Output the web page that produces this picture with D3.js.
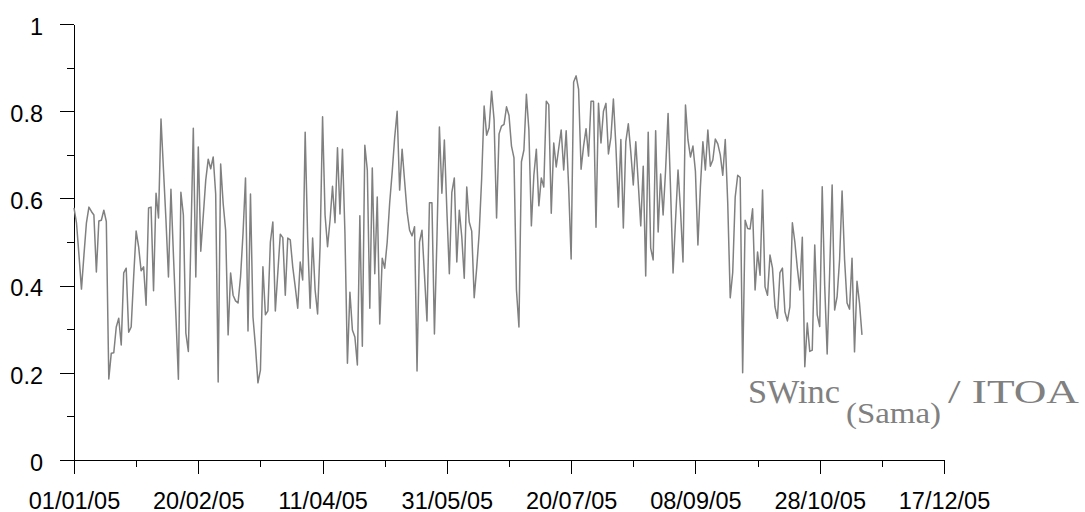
<!DOCTYPE html>
<html>
<head>
<meta charset="utf-8">
<script src="https://cdn.jsdelivr.net/npm/d3@7"></script>
<style>
  html, body { margin: 0; padding: 0; background: #fff; }
  #chart { width: 1085px; height: 512px; }
  .axis text { font-family: "Liberation Sans", Arial, sans-serif; font-size: 23.5px; fill: #000; }
  .axis path, .axis line { stroke: #000; stroke-width: 1; shape-rendering: crispEdges; }
  .serieslabel { font-family: "Liberation Serif", "Times New Roman", serif; fill: #808080; }
</style>
</head>
<body>
<div id="chart"></div>
<script>
// ------- data -------
const START_DATE = "01/01/05";

// daily SWinc(Sama)/ITOA ratio from 01/01/05
const ratio = [
  0.578, 0.544, 0.47, 0.392, 0.47, 0.544, 0.58, 0.57, 0.562, 0.431,
  0.548, 0.55, 0.573, 0.547, 0.186, 0.245, 0.246, 0.305, 0.325, 0.264,
  0.429, 0.44, 0.293, 0.305, 0.42, 0.525, 0.489, 0.434, 0.443, 0.355,
  0.578, 0.58, 0.388, 0.612, 0.555, 0.782, 0.665, 0.55, 0.42, 0.621,
  0.47, 0.33, 0.185, 0.614, 0.562, 0.291, 0.249, 0.5, 0.761, 0.42,
  0.718, 0.479, 0.56, 0.642, 0.69, 0.668, 0.695, 0.61, 0.179, 0.679,
  0.589, 0.527, 0.287, 0.429, 0.378, 0.365, 0.36, 0.42, 0.52, 0.647,
  0.296, 0.61, 0.328, 0.26, 0.177, 0.206, 0.443, 0.333, 0.342, 0.5,
  0.546, 0.342, 0.43, 0.518, 0.51, 0.378, 0.509, 0.505, 0.443, 0.397,
  0.348, 0.454, 0.413, 0.752, 0.509, 0.348, 0.509, 0.39, 0.335, 0.49,
  0.787, 0.562, 0.489, 0.55, 0.628, 0.544, 0.716, 0.564, 0.713, 0.52,
  0.222, 0.385, 0.298, 0.282, 0.218, 0.56, 0.261, 0.722, 0.665, 0.348,
  0.67, 0.427, 0.603, 0.312, 0.463, 0.44, 0.5, 0.59, 0.66, 0.739,
  0.8, 0.619, 0.713, 0.64, 0.569, 0.527, 0.514, 0.535, 0.204, 0.5,
  0.527, 0.424, 0.319, 0.59, 0.59, 0.289, 0.505, 0.764, 0.612, 0.734,
  0.573, 0.427, 0.614, 0.647, 0.454, 0.573, 0.512, 0.417, 0.626, 0.546,
  0.525, 0.372, 0.44, 0.52, 0.645, 0.812, 0.745, 0.762, 0.846, 0.78,
  0.555, 0.748, 0.766, 0.77, 0.81, 0.79, 0.72, 0.693, 0.39, 0.305,
  0.684, 0.711, 0.839, 0.757, 0.537, 0.653, 0.713, 0.583, 0.647, 0.626,
  0.823, 0.815, 0.566, 0.727, 0.672, 0.715, 0.757, 0.665, 0.755, 0.626,
  0.461, 0.867, 0.881, 0.85, 0.667, 0.72, 0.76, 0.697, 0.823, 0.823,
  0.534, 0.818, 0.727, 0.8, 0.818, 0.702, 0.74, 0.828, 0.72, 0.58,
  0.735, 0.532, 0.73, 0.771, 0.706, 0.631, 0.73, 0.635, 0.537, 0.674,
  0.422, 0.752, 0.486, 0.459, 0.755, 0.523, 0.656, 0.562, 0.665, 0.795,
  0.62, 0.429, 0.55, 0.665, 0.573, 0.454, 0.814, 0.734, 0.695, 0.72,
  0.662, 0.493, 0.626, 0.73, 0.665, 0.757, 0.674, 0.688, 0.736, 0.725,
  0.7, 0.653, 0.735, 0.589, 0.372, 0.43, 0.603, 0.653, 0.648, 0.2,
  0.55, 0.531, 0.53, 0.576, 0.39, 0.477, 0.424, 0.619, 0.397, 0.378,
  0.47, 0.44, 0.351, 0.325, 0.43, 0.44, 0.34, 0.319, 0.351, 0.544,
  0.5, 0.44, 0.39, 0.511, 0.214, 0.314, 0.249, 0.252, 0.493, 0.333,
  0.306, 0.627, 0.4, 0.243, 0.43, 0.631, 0.344, 0.375, 0.46, 0.617,
  0.46, 0.36, 0.346, 0.463, 0.248, 0.41, 0.36, 0.287
];

const xTickLabels = ["01/01/05", "20/02/05", "11/04/05", "31/05/05", "20/07/05", "08/09/05", "28/10/05", "17/12/05"];
const yTicks = [0, 0.2, 0.4, 0.6, 0.8, 1];
const yMinorTicks = [0.1, 0.3, 0.5, 0.7, 0.9];

// ------- chart -------
const parse = d3.utcParse("%d/%m/%y");
const fmt = d3.utcFormat("%d/%m/%y");
const start = parse(START_DATE);
const rows = ratio.map((v, i) => ({ date: d3.utcDay.offset(start, i), value: v }));

const xTicks = xTickLabels.map(parse);
const xMinorTicks = xTicks.slice(0, -1).map((d, i) => new Date((+d + +xTicks[i + 1]) / 2));

const width = 1085, height = 512;
const margin = { top: 24, right: 141, bottom: 52, left: 74 };

const svg = d3.select("#chart").append("svg")
  .attr("width", width)
  .attr("height", height);

const x = d3.scaleUtc()
  .domain([xTicks[0], xTicks[xTicks.length - 1]])
  .range([margin.left, width - margin.right]);

const y = d3.scaleLinear()
  .domain([0, 1])
  .range([height - margin.bottom, margin.top]);

// minor ticks
svg.append("g")
  .attr("class", "axis")
  .attr("transform", `translate(${margin.left},0)`)
  .call(d3.axisLeft(y).tickValues(yMinorTicks).tickSize(7).tickFormat(""))
  .call(g => g.select(".domain").remove());

svg.append("g")
  .attr("class", "axis")
  .attr("transform", `translate(0,${height - margin.bottom})`)
  .call(d3.axisBottom(x).tickValues(xMinorTicks).tickSize(7).tickFormat(""))
  .call(g => g.select(".domain").remove());

// major axes
svg.append("g")
  .attr("class", "axis")
  .attr("transform", `translate(${margin.left},0)`)
  .call(d3.axisLeft(y).tickValues(yTicks).tickSize(14).tickSizeOuter(0).tickPadding(17)
    .tickFormat(d => String(d)))
  .call(g => g.selectAll("text").attr("dy", "0.44em"));

svg.append("g")
  .attr("class", "axis")
  .attr("transform", `translate(0,${height - margin.bottom})`)
  .call(d3.axisBottom(x).tickValues(xTicks).tickSize(14).tickSizeOuter(0).tickPadding(18)
    .tickFormat(fmt));

// series
const line = d3.line()
  .x(d => x(d.date))
  .y(d => y(d.value));

svg.append("path")
  .datum(rows)
  .attr("fill", "none")
  .attr("stroke", "#808080")
  .attr("stroke-width", 1.5)
  .attr("stroke-linejoin", "round")
  .attr("d", line);

// series label: SWinc (Sama) / ITOA, subscript lower
const lab = svg.append("g").attr("class", "serieslabel");
lab.append("text")
  .attr("x", 748).attr("y", 403)
  .attr("textLength", 92).attr("lengthAdjust", "spacingAndGlyphs")
  .style("font-size", "33px")
  .text("SWinc");
lab.append("text")
  .attr("x", 846).attr("y", 423)
  .attr("textLength", 95).attr("lengthAdjust", "spacingAndGlyphs")
  .style("font-size", "29px")
  .text("(Sama)");
lab.append("text")
  .attr("x", 948).attr("y", 403)
  .attr("textLength", 131).attr("lengthAdjust", "spacingAndGlyphs")
  .style("font-size", "33px")
  .text("/ ITOA");
</script>
</body>
</html>
